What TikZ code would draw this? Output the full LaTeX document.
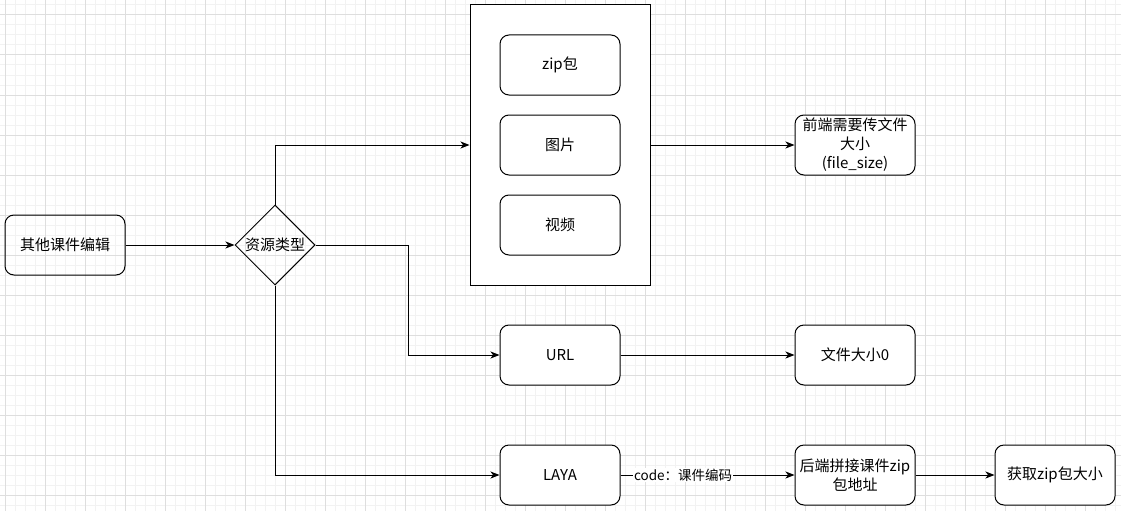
\documentclass[tikz,border=0pt]{standalone}
\usepackage{fontspec}
\setmainfont{Noto Sans CJK SC}
\usetikzlibrary{arrows.meta}
\usetikzlibrary{shapes.geometric}
\tikzset{>={Stealth[length=9pt,width=7pt,inset=2.5pt]}}
\definecolor{gridminor}{HTML}{F2F2F2}
\definecolor{gridmajor}{HTML}{DEDEDE}

\begin{document}
\begin{tikzpicture}[x=1pt,y=-1pt,
    box/.style={draw, line width=1pt, rounded corners=9pt, minimum width=120pt,
      minimum height=60pt, inner sep=1pt, align=center,
      font=\fontsize{15}{19}\selectfont},
    decision/.style={draw, line width=1pt, diamond, aspect=1, inner sep=0pt,
      minimum width=80pt, minimum height=80pt, font=\fontsize{15}{19}\selectfont},
    flow/.style={->, line width=1pt},
    edgetext/.style={fill=white, inner sep=1pt, font=\fontsize{13.5}{16}\selectfont}]

  \useasboundingbox (0,0) rectangle (1121,511);
  \fill[white] (0,0) rectangle (1121,511);

  % background grid
  \foreach \gx in {5,15,...,1115} \draw[gridminor, line width=1pt] (\gx,0) -- (\gx,511);
  \foreach \gy in {5,15,...,505} \draw[gridminor, line width=1pt] (0,\gy) -- (1121,\gy);
  \foreach \gx in {5,45,...,1085} \draw[gridmajor, line width=1pt] (\gx,0) -- (\gx,511);
  \foreach \gy in {15,55,...,495} \draw[gridmajor, line width=1pt] (0,\gy) -- (1121,\gy);

  \node[box] (edit) at (65,245) {其他课件编辑};
  \node[decision] (kind) at (275,245) {资源类型};

  \node[draw, line width=1pt, fill=white, minimum width=180pt, minimum height=280pt] (media) at (560,145) {};
  \node[box] (zip) at (560,65) {zip包};
  \node[box] (pic) at (560,145) {图片};
  \node[box] (video) at (560,225) {视频};

  \node[box, fill=white] (front) at (855,145) {前端需要传文件\\大小\\(file\_size)};
  \node[box, fill=white] (url) at (560,355) {URL};
  \node[box, fill=white] (zero) at (855,355) {文件大小0};
  \node[box, fill=white] (laya) at (560,475) {LAYA};
  \node[box, fill=white] (back) at (855,475) {后端拼接课件zip\\包地址};
  \node[box, fill=white] (size) at (1055,475) {获取zip包大小};

  \coordinate (bend) at (408,355);

  \draw[flow] (edit) -- (kind);
  \draw[flow] (kind.north) |- (media.west);
  \draw[flow] (kind.east) -| (bend) -- (url.west);
  \draw[flow] (kind.south) |- (laya.west);
  \draw[flow] (media.east) -- (front.west);
  \draw[flow] (url) -- (zero);
  \draw[flow] (laya) -- node[edgetext, pos=0.36] {code：课件编码} (back);
  \draw[flow] (back) -- (size);

\end{tikzpicture}
\end{document}
